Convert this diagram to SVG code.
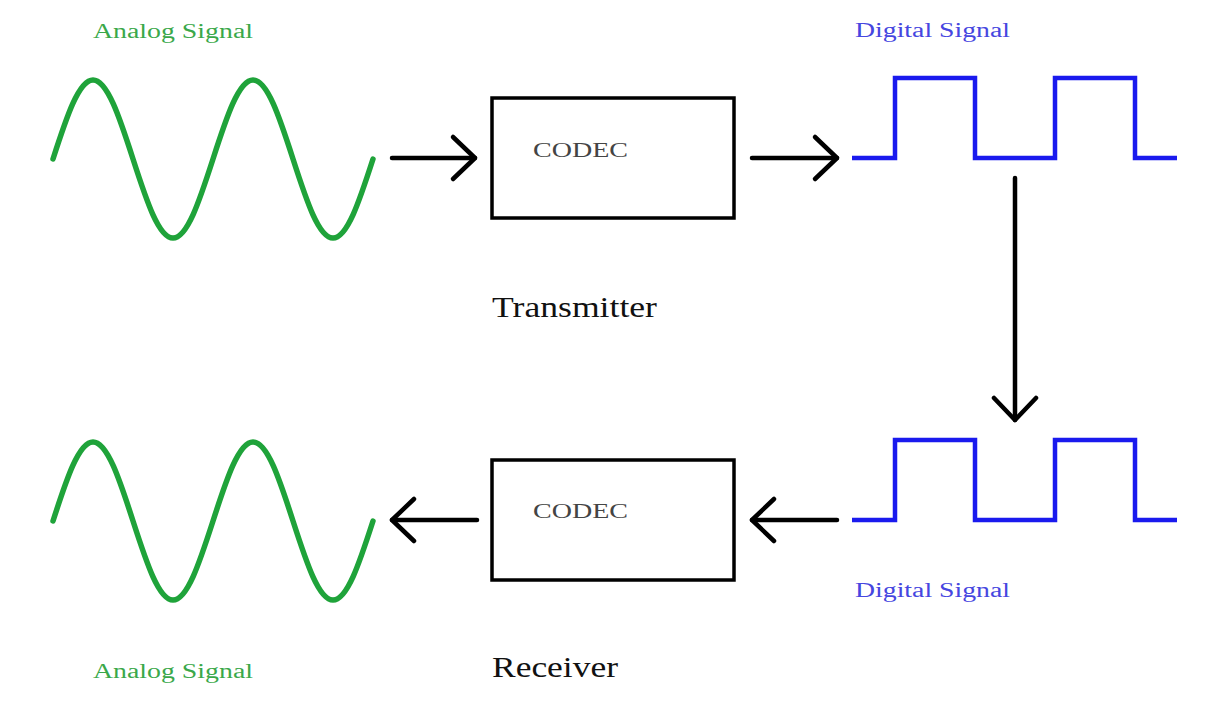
<svg xmlns="http://www.w3.org/2000/svg" width="1221" height="718" viewBox="0 0 1221 718">
<style>
.sine{fill:none;stroke:#1fa33a;stroke-width:5.5;stroke-linecap:round;stroke-linejoin:round}
.square{fill:none;stroke:#1a1aee;stroke-width:4.5;stroke-linejoin:miter}
.box{fill:#fff;stroke:#000;stroke-width:3.5}
.conn{fill:none;stroke:#000;stroke-width:4.5;stroke-linecap:round;stroke-linejoin:round}
.alabel{font-family:"Liberation Serif",serif;font-size:20px;fill:#3aa84a}
.dlabel{font-family:"Liberation Serif",serif;font-size:20px;fill:#4646e0}
.codec{font-family:"Liberation Serif",serif;font-size:21px;fill:#444}
.cap{font-family:"Liberation Serif",serif;font-size:30px;fill:#111}
</style>
<defs>
<path id="wave" d="M53,159 C66.4,117.5 78.7,80 93,80 C107.3,80 119.6,117.5 133,159 C146.4,200.5 158.7,238 173,238 C187.3,238 199.6,200.5 213,159 C226.4,117.5 238.7,80 253,80 C267.3,80 279.6,117.5 293,159 C306.4,200.5 318.7,238 333,238 C347.3,238 359.6,200.5 373,159"/>
<path id="sq" d="M852,158 H895 V78 H975 V158 H1055 V78 H1135 V158 H1177"/>
<marker id="chev" markerUnits="userSpaceOnUse" viewBox="-26 -26 30 52" refX="0" refY="0" markerWidth="30" markerHeight="52" orient="auto">
<path d="M-22,-21 L0,0 L-22,21" fill="none" stroke="#000" stroke-width="4.5" stroke-linecap="round" stroke-linejoin="round"/>
</marker>
</defs>
<rect width="1221" height="718" fill="#fff"/>

<g id="analog-top">
<use href="#wave" class="sine"/>
<text class="alabel" x="93" y="38" textLength="160" lengthAdjust="spacingAndGlyphs">Analog Signal</text>
</g>

<g id="codec-transmitter">
<rect class="box" x="492" y="98" width="242" height="120"/>
<text class="codec" x="533" y="157" textLength="95" lengthAdjust="spacingAndGlyphs">CODEC</text>
<text class="cap" x="492" y="317" textLength="165" lengthAdjust="spacingAndGlyphs">Transmitter</text>
</g>

<g id="digital-top">
<use href="#sq" class="square"/>
<text class="dlabel" x="855" y="37" textLength="155" lengthAdjust="spacingAndGlyphs">Digital Signal</text>
</g>

<g id="digital-bottom">
<use href="#sq" class="square" transform="translate(0,362)"/>
<text class="dlabel" x="855" y="597" textLength="155" lengthAdjust="spacingAndGlyphs">Digital Signal</text>
</g>

<g id="codec-receiver">
<rect class="box" x="492" y="460" width="242" height="120"/>
<text class="codec" x="533" y="518" textLength="95" lengthAdjust="spacingAndGlyphs">CODEC</text>
<text class="cap" x="492" y="677" textLength="126" lengthAdjust="spacingAndGlyphs">Receiver</text>
</g>

<g id="analog-bottom">
<use href="#wave" class="sine" transform="translate(0,362)"/>
<text class="alabel" x="93" y="678" textLength="160" lengthAdjust="spacingAndGlyphs">Analog Signal</text>
</g>

<g id="connectors">
<path class="conn" d="M392,158 H475" marker-end="url(#chev)"/>
<path class="conn" d="M752,158 H837" marker-end="url(#chev)"/>
<path class="conn" d="M1015,178 V420" marker-end="url(#chev)"/>
<path class="conn" d="M837,520 H752" marker-end="url(#chev)"/>
<path class="conn" d="M477,520 H392" marker-end="url(#chev)"/>
</g>
</svg>
